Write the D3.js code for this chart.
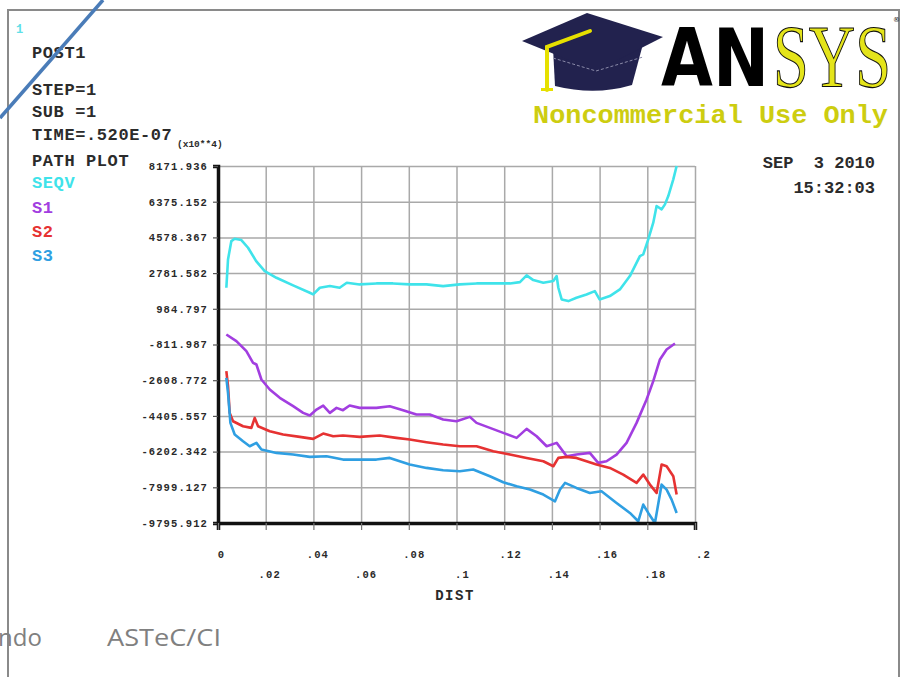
<!DOCTYPE html>
<html>

<head>
  <title>ANSYS path plot</title>
  <style>
    body { margin: 0; background: #fff; }
  </style>
</head>

<body>
  <svg id="svg"></svg>

  <script src="https://d3js.org/d3.v7.min.js"></script>
  <script>
    // path values: [DIST, stress]
    let seqv = [[0.0035, 2044], [0.0042, 3471], [0.0056, 4394], [0.007, 4512], [0.0098, 4445], [0.0126, 4058],
      [0.016, 3387], [0.0196, 2883], [0.0245, 2547], [0.0315, 2161], [0.0385, 1792], [0.0399, 1708],
      [0.0427, 2044], [0.0469, 2128], [0.051, 2044], [0.054, 2296], [0.0594, 2212], [0.0664, 2262],
      [0.0734, 2262], [0.0804, 2212], [0.0874, 2212], [0.0944, 2128], [0.1014, 2212], [0.1084, 2262],
      [0.1154, 2262], [0.1224, 2262], [0.1266, 2329], [0.1294, 2665], [0.1322, 2430], [0.1364, 2296],
      [0.1406, 2380], [0.142, 2631], [0.1427, 2044], [0.1441, 1456], [0.1469, 1372], [0.1503, 1540],
      [0.1545, 1708], [0.158, 1876], [0.160, 1456], [0.1643, 1624], [0.1685, 1960], [0.1727, 2631],
      [0.1769, 3640], [0.1783, 3722], [0.1804, 4478], [0.1825, 5318], [0.1839, 6157], [0.186, 5989],
      [0.1874, 6241], [0.1888, 6661], [0.1909, 7500], [0.1923, 8172]];

    let s1 = [[0.0035, -307], [0.0077, -643], [0.0119, -1146], [0.0147, -1734], [0.0161, -1818], [0.0182, -2574],
      [0.0217, -3077], [0.0259, -3497], [0.0315, -3917], [0.0357, -4253], [0.0385, -4387], [0.0413, -4085],
      [0.0441, -3883], [0.0469, -4253], [0.0497, -4001], [0.0524, -4118], [0.0552, -3883], [0.0594, -4001],
      [0.0664, -4001], [0.072, -3917], [0.0776, -4118], [0.0832, -4337], [0.0888, -4337], [0.0944, -4589],
      [0.1, -4673], [0.1056, -4454], [0.1084, -4757], [0.114, -5009], [0.1196, -5260], [0.1252, -5512],
      [0.1294, -5059], [0.1336, -5428], [0.1378, -5932], [0.142, -5764], [0.1462, -6435], [0.1503, -6352],
      [0.1559, -6268], [0.1594, -6771], [0.1629, -6687], [0.1671, -6352], [0.1713, -5764], [0.1755, -4757],
      [0.1797, -3581], [0.1825, -2658], [0.1853, -1566], [0.1881, -1062], [0.1916, -760]];

    let s2 = [[0.0035, -2154], [0.0042, -2910], [0.0049, -4253], [0.0063, -4673], [0.0105, -4925], [0.014, -5009],
      [0.0154, -4505], [0.0168, -4925], [0.0217, -5177], [0.0273, -5344], [0.0343, -5461], [0.0399, -5562],
      [0.0441, -5294], [0.0483, -5428], [0.0524, -5394], [0.0594, -5461], [0.0678, -5394], [0.0748, -5512],
      [0.0804, -5596], [0.0874, -5730], [0.0944, -5848], [0.1014, -5932], [0.1084, -5932], [0.1154, -6184],
      [0.1224, -6352], [0.1294, -6520], [0.1364, -6687], [0.1406, -6939], [0.1427, -6520], [0.1462, -6469],
      [0.1503, -6520], [0.1545, -6687], [0.1587, -6855], [0.1643, -7023], [0.1699, -7359], [0.1755, -7779],
      [0.1783, -7359], [0.1811, -7862], [0.1839, -8282], [0.186, -6855], [0.1881, -6939], [0.1909, -7443],
      [0.1923, -8366]];

    let s3 = [[0.0035, -2490], [0.0042, -3245], [0.0052, -4757], [0.007, -5344], [0.0105, -5680], [0.0133, -5932],
      [0.0161, -5764], [0.0182, -6100], [0.0245, -6268], [0.0315, -6352], [0.0385, -6469], [0.0455, -6436],
      [0.0524, -6604], [0.0594, -6604], [0.0664, -6604], [0.072, -6520], [0.0804, -6855], [0.0874, -7023],
      [0.0944, -7141], [0.1014, -7191], [0.107, -7107], [0.114, -7443], [0.1196, -7745], [0.1252, -7946],
      [0.1308, -8114], [0.1364, -8366], [0.1413, -8702], [0.1434, -8114], [0.1455, -7779], [0.1503, -8030],
      [0.1559, -8282], [0.1608, -8198], [0.1671, -8786], [0.1727, -9289], [0.1762, -9709], [0.1783, -8870],
      [0.1804, -9289], [0.1832, -9796], [0.186, -7862], [0.1881, -8114], [0.1902, -8618], [0.1923, -9289]];

    let yTicks = [8171.936, 6375.152, 4578.367, 2781.582, 984.797, -811.987, -2608.772, -4405.557, -6202.342, -7999.127, -9795.912];
    let yLabels = ["8171.936", "6375.152", "4578.367", "2781.582", "984.797", "-811.987", "-2608.772", "-4405.557", "-6202.342", "-7999.127", "-9795.912"];
    let xTicks = [0, 0.02, 0.04, 0.06, 0.08, 0.1, 0.12, 0.14, 0.16, 0.18, 0.2];
    let xLabels = ["0", ".02", ".04", ".06", ".08", ".1", ".12", ".14", ".16", ".18", ".2"];

    let seriesNames = ["SEQV", "S1", "S2", "S3"];
    let seriesColors = ["#3fe3ea", "#a23ee0", "#e63232", "#2f9fe2"];
    let headerLines = ["POST1", "", "STEP=1", "SUB =1", "TIME=.520E-07", "PATH PLOT"];

    let width = 905, height = 677;
    let plot = { left: 218, right: 695, top: 166, bottom: 523 };
    let mono = "Liberation Mono";

    let svg = d3.select("#svg").attr("width", width).attr("height", height);

    let xScale = d3.scaleLinear().domain([0, 0.2]).range([plot.left, plot.right]);
    let yScale = d3.scaleLinear().domain([-9795.912, 8171.936]).range([plot.bottom, plot.top]);

    // outer frame
    svg.append("rect")
      .attr("x", 8).attr("y", 10).attr("width", 891).attr("height", 700)
      .attr("fill", "none").attr("stroke", "#8a8a8a").attr("stroke-width", 2);

    // grid
    let grid = svg.append("g");
    grid.append("g")
      .attr("transform", `translate(0, ${plot.top})`)
      .call(d3.axisTop(xScale).tickValues(xTicks).tickSize(-(plot.bottom - plot.top)).tickFormat(""))
      .call(g => g.select(".domain").remove())
      .call(g => g.selectAll("line").attr("stroke", "#a9a9a9").attr("stroke-width", 1.5));
    grid.append("g")
      .attr("transform", `translate(${plot.right}, 0)`)
      .call(d3.axisRight(yScale).tickValues(yTicks).tickSize(-(plot.right - plot.left)).tickFormat(""))
      .call(g => g.select(".domain").remove())
      .call(g => g.selectAll("line").attr("stroke", "#a9a9a9").attr("stroke-width", 1.5));

    // curves
    let line = d3.line().x(d => xScale(d[0])).y(d => yScale(d[1]));
    [seqv, s1, s2, s3].forEach((s, i) => {
      svg.append("path")
        .datum(s)
        .attr("d", line)
        .attr("fill", "none")
        .attr("stroke", seriesColors[i])
        .attr("stroke-width", 2.6)
        .attr("stroke-linejoin", "round");
    });

    // y axis
    let yAxis = svg.append("g")
      .attr("transform", `translate(${plot.left}, 0)`)
      .call(d3.axisLeft(yScale).tickValues(yTicks).tickSize(5).tickPadding(5).tickFormat((d, i) => yLabels[i]));
    yAxis.attr("font-family", mono);
    yAxis.select(".domain").attr("stroke", "#111").attr("stroke-width", 3.5);
    yAxis.selectAll("line").attr("stroke", "#555").attr("stroke-width", 1.2);
    yAxis.selectAll("text")
      .attr("font-weight", "bold")
      .attr("font-size", 10.5)
      .attr("letter-spacing", 1.1)
      .attr("fill", "#2a2a2a");

    // x axis
    let xAxis = svg.append("g")
      .attr("transform", `translate(0, ${plot.bottom})`)
      .call(d3.axisBottom(xScale).tickValues(xTicks).tickSize(7).tickFormat((d, i) => xLabels[i]));
    xAxis.attr("font-family", mono);
    xAxis.select(".domain").attr("stroke", "#111").attr("stroke-width", 3.5);
    xAxis.selectAll("line").attr("stroke", "#777").attr("stroke-width", 1.2);
    xAxis.selectAll("text")
      .attr("font-weight", "bold")
      .attr("font-size", 10.5)
      .attr("letter-spacing", 1.1)
      .attr("fill", "#2a2a2a")
      .attr("dx", (d, i) => 3 + i * 0.5)
      .attr("y", (d, i) => i % 2 === 0 ? 28 : 48);

    svg.append("text")
      .attr("x", 455).attr("y", 600)
      .attr("text-anchor", "middle")
      .attr("font-family", mono)
      .attr("font-weight", "bold")
      .attr("font-size", 14)
      .attr("letter-spacing", 1.5)
      .attr("fill", "#2a2a2a")
      .text("DIST");

    // header block
    svg.append("text")
      .attr("x", 16).attr("y", 33)
      .attr("font-family", mono)
      .attr("font-size", 12).attr("font-weight", "bold")
      .attr("fill", "#5fe0e8")
      .text("1");

    let headerY = [58, 0, 95, 117, 140, 166];
    headerLines.forEach((t, i) => {
      if (!t) return;
      svg.append("text")
        .attr("x", 32).attr("y", headerY[i])
        .attr("font-family", mono)
        .attr("font-size", 17).attr("font-weight", "bold")
        .attr("letter-spacing", 0.6)
        .attr("fill", "#2b2b2b")
        .text(t);
    });
    svg.append("text")
      .attr("x", 177).attr("y", 147)
      .attr("font-family", mono)
      .attr("font-size", 9.5).attr("font-weight", "bold")
      .attr("fill", "#2b2b2b")
      .text("(x10**4)");

    let legendY = [188, 213, 237, 261];
    seriesNames.forEach((t, i) => {
      svg.append("text")
        .attr("x", 32).attr("y", legendY[i])
        .attr("font-family", mono)
        .attr("font-size", 17).attr("font-weight", "bold")
        .attr("letter-spacing", 0.6)
        .attr("fill", seriesColors[i])
        .text(t);
    });

    // date / time
    svg.append("text")
      .attr("x", 875).attr("y", 168).attr("text-anchor", "end")
      .attr("font-family", mono)
      .attr("font-size", 17).attr("font-weight", "bold").attr("fill", "#2b2b2b")
      .attr("xml:space", "preserve")
      .text("SEP  3 2010");
    svg.append("text")
      .attr("x", 875).attr("y", 193).attr("text-anchor", "end")
      .attr("font-family", mono)
      .attr("font-size", 17).attr("font-weight", "bold").attr("fill", "#2b2b2b")
      .text("15:32:03");

    // logo
    let logo = svg.append("g");
    // skull cap
    logo.append("path")
      .attr("d", "M553,48 L555,86 Q595,96 632,85 L643,44 Z")
      .attr("fill", "#22224e");
    // board
    logo.append("path")
      .attr("d", "M522,41 L587,13 L663,37 L596,71 Z")
      .attr("fill", "#22224e");
    logo.append("path")
      .attr("d", "M553,58 L596,71 L643,57")
      .attr("fill", "none").attr("stroke", "#8a8aa8").attr("stroke-width", 1).attr("stroke-dasharray", "3,2");
    // tassel
    logo.append("path")
      .attr("d", "M590,31 L547,47 L547,90")
      .attr("fill", "none").attr("stroke", "#e6e000").attr("stroke-width", 4).attr("stroke-linecap", "round");
    logo.append("rect")
      .attr("x", 541).attr("y", 88).attr("width", 12).attr("height", 3).attr("fill", "#e6e000");

    logo.append("text")
      .attr("x", 661).attr("y", 86)
      .attr("font-family", "DejaVu Sans").attr("font-weight", "bold")
      .attr("font-size", 80)
      .attr("textLength", 108).attr("lengthAdjust", "spacingAndGlyphs")
      .attr("fill", "#000")
      .text("AN");
    logo.append("text")
      .attr("x", 773).attr("y", 86)
      .attr("font-family", "Liberation Serif")
      .attr("font-size", 88)
      .attr("textLength", 118).attr("lengthAdjust", "spacingAndGlyphs")
      .attr("fill", "#e4e41a").attr("stroke", "#111").attr("stroke-width", 1.2)
      .text("SYS");
    logo.append("text")
      .attr("x", 893).attr("y", 22)
      .attr("font-family", "DejaVu Sans").attr("font-size", 7)
      .attr("fill", "#111")
      .text("®");

    svg.append("text")
      .attr("x", 533).attr("y", 123)
      .attr("font-family", mono)
      .attr("font-size", 26).attr("font-weight", "bold")
      .attr("textLength", 355).attr("lengthAdjust", "spacingAndGlyphs")
      .attr("fill", "#cdcd10")
      .text("Noncommercial Use Only");

    // slide footer
    svg.append("text")
      .attr("x", -2).attr("y", 646)
      .attr("font-family", "Open Sans").attr("font-size", 24)
      .attr("fill", "#808080")
      .text("ndo");
    svg.append("text")
      .attr("x", 107).attr("y", 646)
      .attr("font-family", "Open Sans").attr("font-size", 24)
      .attr("textLength", 114).attr("lengthAdjust", "spacingAndGlyphs")
      .attr("fill", "#808080")
      .text("ASTeC/CI");

    // connector line over the corner
    svg.append("line")
      .attr("x1", 0).attr("y1", 118).attr("x2", 103).attr("y2", 0)
      .attr("stroke", "#4a7cb8").attr("stroke-width", 3.5);
  </script>
</body>

</html>
